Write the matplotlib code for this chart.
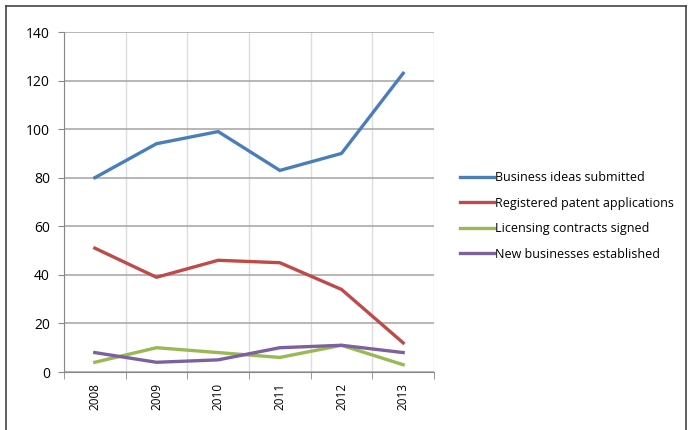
import matplotlib
matplotlib.use("Agg")
import matplotlib.pyplot as plt
from matplotlib.lines import Line2D

# data
years = ["2008", "2009", "2010", "2011", "2012", "2013"]
ideas = [80, 94, 99, 83, 90, 123]
patents = [51, 39, 46, 45, 34, 12]
licensing = [4, 10, 8, 6, 11, 3]
new_biz = [8, 4, 5, 10, 11, 8]

series_names = ["Business ideas submitted", "Registered patent applications",
                "Licensing contracts signed", "New businesses established"]
colors = ["#4A7EBB", "#BE4B48", "#98B954", "#7D60A0"]

plt.rcParams["font.family"] = ["Open Sans", "DejaVu Sans"]

fig = plt.figure(figsize=(6.91, 4.30), dpi=100)
ax = fig.add_axes([64 / 691, 58 / 430, 370 / 691, 340 / 430])

x = list(range(len(years)))
for vals, name, c in zip([ideas, patents, licensing, new_biz], series_names, colors):
    ax.plot(x, vals, color=c, lw=2.4, label=name, solid_joinstyle="round")

ax.set_xlim(-0.5, len(years) - 0.5)
ax.set_ylim(0, 140)
ax.set_yticks(range(0, 141, 20))
ax.set_xticks(x)
ax.set_xticklabels(years, rotation=90, fontsize=8.5)
ax.tick_params(axis="y", labelsize=10, length=4, color="#888888", pad=6)
ax.tick_params(axis="x", length=0, pad=8)

# category boundaries: vertical grid and outward ticks
ax.set_xticks([i + 0.5 for i in range(-1, len(years))], minor=True)
ax.tick_params(axis="x", which="minor", length=5, color="#888888", direction="out")
ax.grid(axis="y", color="#B0A8A8", lw=1.2)
ax.grid(axis="x", which="minor", color="#DDDDDD", lw=1)
ax.set_axisbelow(True)
for s in ["top", "right"]:
    ax.spines[s].set_visible(False)
for s in ["left", "bottom"]:
    ax.spines[s].set_color("#888888")

fig.legend(loc="upper left", bbox_to_anchor=(455 / 691, 1 - 166 / 430),
           frameon=False, fontsize=9, handlelength=2.7, handletextpad=0.1,
           labelspacing=1.0, borderaxespad=0)

# outer frame of the picture
for xs, ys in [([6, 686], [6, 6]), ([6, 6], [6, 430]), ([686, 686], [6, 430])]:
    fig.add_artist(Line2D([v / 691 for v in xs], [1 - v / 430 for v in ys],
                          color="#444444", lw=1.2))

fig.savefig("out.png", dpi=100)
